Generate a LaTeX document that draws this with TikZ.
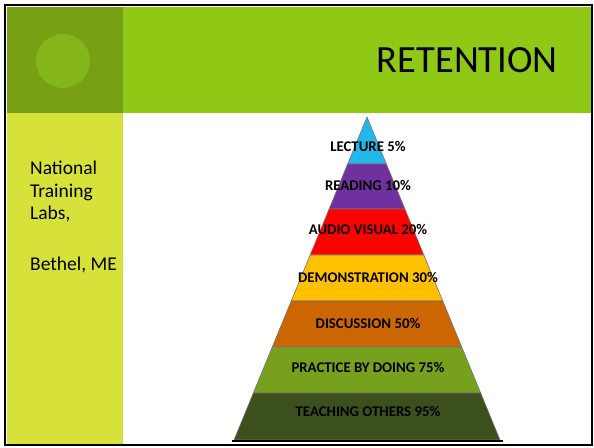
\documentclass[tikz,border=0pt]{standalone}
\usepackage{fontspec}
\setmainfont{Carlito}
\usetikzlibrary{calc}

\definecolor{headgreen}{HTML}{8FC916}
\definecolor{squaregreen}{HTML}{77A015}
\definecolor{dotgreen}{HTML}{84B51B}
\definecolor{sidegreen}{HTML}{D6E13A}
\definecolor{lectureblue}{HTML}{22B8EC}
\definecolor{readingpurple}{HTML}{7030A0}
\definecolor{avred}{HTML}{FF0000}
\definecolor{demoyellow}{HTML}{FFC000}
\definecolor{discorange}{HTML}{CC6600}
\definecolor{practgreen}{HTML}{77A01C}
\definecolor{teachgreen}{HTML}{3C501E}

\tikzset{
  band/.style={draw=black!55, line width=0.6pt},
  bandlabel/.style={font=\bfseries\fontsize{14.8}{16}\selectfont, inner sep=0pt},
  sidetext/.style={font=\fontsize{19.5}{22.5}\selectfont, align=left, anchor=north west, inner sep=0pt}
}

\begin{document}
\begin{tikzpicture}[x=1pt,y=-1pt]
    % page and slide background
    \fill[white] (0,0) rectangle (594,447);
    \fill[headgreen] (7,7) rectangle (592,113);
    \fill[squaregreen] (7,7) rectangle (123,113);
    \fill[dotgreen] (63,61) circle (27);
    \fill[sidegreen] (7,113) rectangle (123,445);

    % title and source
    \node[anchor=east, inner sep=0pt, font=\fontsize{38.5}{40}\selectfont] (title) at (558,60) {RETENTION};
    \node[sidetext] (source) at (30,161) {National\\Training\\Labs,\\[28pt]Bethel, ME};

    % pyramid corners
    \coordinate (apex) at (367,117);
    \coordinate (bl) at (234,440);
    \coordinate (br) at (500,440);

    % bands: top y / bottom y / colour / label y / text
    \foreach \ya/\yb/\col/\ly/\txt [count=\n] in {
        117/164/lectureblue/146/LECTURE 5\%,
        164/209/readingpurple/185/READING 10\%,
        209/255/avred/229/AUDIO VISUAL 20\%,
        255/301/demoyellow/277/DEMONSTRATION 30\%,
        301/347/discorange/323/DISCUSSION 50\%,
        347/393/practgreen/367/PRACTICE BY DOING 75\%,
        393/440/teachgreen/411/TEACHING OTHERS 95\%} {
        \pgfmathsetmacro\ta{(\ya-117)/323}
        \pgfmathsetmacro\tb{(\yb-117)/323}
        \filldraw[band, fill=\col] ($(apex)!\ta!(bl)$) -- ($(apex)!\tb!(bl)$)
            -- ($(apex)!\tb!(br)$) -- ($(apex)!\ta!(br)$) -- cycle;
        \node[bandlabel] (band\n) at (368,\ly) {\txt};
    }

    % base line under the pyramid
    \draw[line width=1.2pt] ($(bl)+(-2,1)$) -- ($(br)+(3,1)$);

    % slide frame
    \draw[line width=2pt] (5,5) rectangle (592,445);
\end{tikzpicture}
\end{document}
